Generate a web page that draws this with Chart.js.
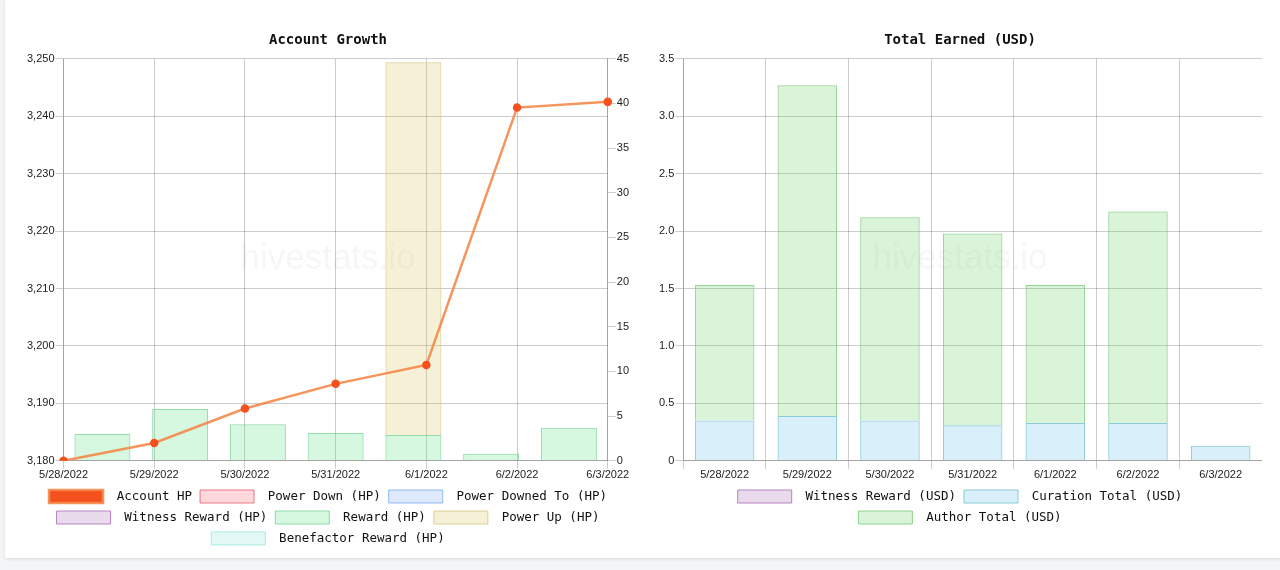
<!DOCTYPE html>
<html>
<head>
<meta charset="utf-8">
<script src="https://cdn.jsdelivr.net/npm/chart.js@4"></script>
<style>
    html, body { margin: 0; padding: 0; background: #f4f5f7; }
    .card {
        position: absolute; left: 5px; top: 0; width: 1275px; height: 558px;
        background: #fff; box-shadow: 0 1px 3px rgba(0,0,0,0.12);
    }
    #growth { position: absolute; left: 21px; top: 22px; }
    #earned { position: absolute; left: 653px; top: 22px; }
</style>
</head>
<body>
<div class="card">
    <canvas id="growth" width="604" height="533"></canvas>
    <canvas id="earned" width="604" height="512"></canvas>
</div>
<script>
const days = ['5/28/2022', '5/29/2022', '5/30/2022', '5/31/2022', '6/1/2022', '6/2/2022', '6/3/2022'];

// Account Growth
const accountHp = [3180, 3183.1, 3189.1, 3193.4, 3196.7, 3241.5, 3242.5];
const powerDown = [0, 0, 0, 0, 0, 0, 0];
const powerDownedTo = [0, 0, 0, 0, 0, 0, 0];
const witnessRewardHp = [0, 0, 0, 0, 0, 0, 0];
const rewardHp = [3.0, 5.8, 4.1, 3.1, 2.9, 0.8, 3.7];
const powerUp = [0, 0, 0, 0, 41.7, 0, 0];
const benefactorReward = [0, 0, 0, 0, 0, 0, 0];

// Total Earned (USD)
const witnessRewardUsd = [0, 0, 0, 0, 0, 0, 0];
const curationTotal = [0.35, 0.39, 0.35, 0.31, 0.33, 0.33, 0.13];
const authorTotal = [1.18, 2.88, 1.77, 1.67, 1.20, 1.84, 0];

const tickFont = {family: '"Liberation Sans", Arial, sans-serif', size: 11};
const monoFont = {family: '"DejaVu Sans Mono", monospace', size: 12.5};
const gridColor = 'rgba(0,0,0,0.2)';

// faint site name in the middle of the plot
const watermark = {
    id: 'watermark',
    beforeDatasetsDraw(chart) {
        const ctx = chart.ctx;
        const area = chart.chartArea;
        ctx.save();
        ctx.font = '35px "Liberation Sans", Arial, sans-serif';
        ctx.fillStyle = 'rgba(0,0,0,0.035)';
        ctx.textAlign = 'center';
        ctx.textBaseline = 'middle';
        ctx.fillText('hivestats.io', chart.width / 2, (area.top + area.bottom) / 2);
        ctx.restore();
    }
};

// legend text sits a bit further from its box than chart.js puts it
const legendLabels = {
    font: monoFont,
    boxWidth: 54,
    boxHeight: 13,
    padding: 8,
    color: '#111',
    generateLabels(chart) {
        const items = Chart.defaults.plugins.legend.labels.generateLabels(chart);
        items.forEach(it => { it.text = ' ' + it.text; });
        return items;
    },
};

function barSet(label, data, fill, border) {
    return {
        type: 'bar',
        label: label,
        data: data,
        backgroundColor: fill,
        borderColor: border,
        borderWidth: 1,
        grouped: false,
        xAxisID: 'x',
        yAxisID: 'y1',
        order: 1,
    };
}

Chart.defaults.color = '#222';

new Chart(document.getElementById('growth'), {
    data: {
        labels: days,
        datasets: [
            {
                type: 'line',
                label: 'Account HP',
                data: accountHp,
                borderColor: 'rgba(244,137,75,0.9)',
                backgroundColor: '#f4511e',
                pointBackgroundColor: '#f4511e',
                pointBorderColor: '#f4511e',
                pointRadius: 3,
                borderWidth: 2.5,
                tension: 0,
                xAxisID: 'x2',
                yAxisID: 'y',
                order: 0,
            },
            barSet('Power Down (HP)', powerDown, 'rgba(255,99,120,0.25)', 'rgba(230,90,100,0.8)'),
            barSet('Power Downed To (HP)', powerDownedTo, 'rgba(110,160,240,0.22)', 'rgba(120,170,240,0.8)'),
            barSet('Witness Reward (HP)', witnessRewardHp, 'rgba(160,90,170,0.22)', 'rgba(175,120,185,0.9)'),
            barSet('Reward (HP)', rewardHp, 'rgba(70,225,120,0.22)', 'rgba(120,210,150,0.8)'),
            barSet('Power Up (HP)', powerUp, 'rgba(220,200,90,0.25)', 'rgba(210,195,130,0.8)'),
            barSet('Benefactor Reward (HP)', benefactorReward, 'rgba(120,220,205,0.2)', 'rgba(160,235,222,0.9)'),
        ]
    },
    options: {
        responsive: false,
        animation: false,
        plugins: {
            title: {
                display: true,
                text: 'Account Growth',
                font: {family: '"DejaVu Sans Mono", monospace', size: 14, weight: 'bold'},
                color: '#111',
            },
            legend: {position: 'bottom', labels: legendLabels},
            tooltip: {enabled: false},
        },
        scales: {
            x: {
                type: 'category',
                display: false,
                stacked: true,
                offset: true,
            },
            x2: {
                type: 'category',
                position: 'bottom',
                offset: false,
                grid: {color: gridColor},
                border: {color: gridColor},
                ticks: {font: tickFont, maxRotation: 0, padding: 0},
            },
            y: {
                position: 'left',
                min: 3180,
                max: 3250,
                ticks: {stepSize: 10, font: tickFont, padding: 1},
                grid: {color: gridColor},
                border: {color: gridColor},
            },
            y1: {
                position: 'right',
                stacked: true,
                min: 0,
                max: 45,
                ticks: {stepSize: 5, font: tickFont, padding: 1},
                grid: {drawOnChartArea: false, color: gridColor},
                border: {color: gridColor},
            },
        }
    },
    plugins: [watermark]
});

new Chart(document.getElementById('earned'), {
    type: 'bar',
    data: {
        labels: days,
        datasets: [
            {
                label: 'Witness Reward (USD)',
                data: witnessRewardUsd,
                backgroundColor: 'rgba(160,90,170,0.22)',
                borderColor: 'rgba(175,120,185,0.9)',
                borderWidth: 1,
            },
            {
                label: 'Curation Total (USD)',
                data: curationTotal,
                backgroundColor: 'rgba(80,180,230,0.22)',
                borderColor: 'rgba(110,190,205,0.8)',
                borderWidth: 1,
            },
            {
                label: 'Author Total (USD)',
                data: authorTotal,
                backgroundColor: 'rgba(100,210,100,0.24)',
                borderColor: 'rgba(120,200,120,0.8)',
                borderWidth: 1,
            },
        ]
    },
    options: {
        responsive: false,
        animation: false,
        plugins: {
            title: {
                display: true,
                text: 'Total Earned (USD)',
                font: {family: '"DejaVu Sans Mono", monospace', size: 14, weight: 'bold'},
                color: '#111',
            },
            legend: {position: 'bottom', labels: legendLabels},
            tooltip: {enabled: false},
        },
        scales: {
            x: {
                stacked: true,
                grid: {
                    color: (c) => c.index === days.length ? 'rgba(0,0,0,0)' : gridColor,
                },
                border: {color: gridColor},
                ticks: {font: tickFont, maxRotation: 0, padding: 0},
            },
            y: {
                stacked: true,
                min: 0,
                max: 3.5,
                ticks: {stepSize: 0.5, font: tickFont, padding: 1},
                grid: {color: gridColor},
                border: {color: gridColor},
            },
        }
    },
    plugins: [watermark]
});
</script>
</body>
</html>
